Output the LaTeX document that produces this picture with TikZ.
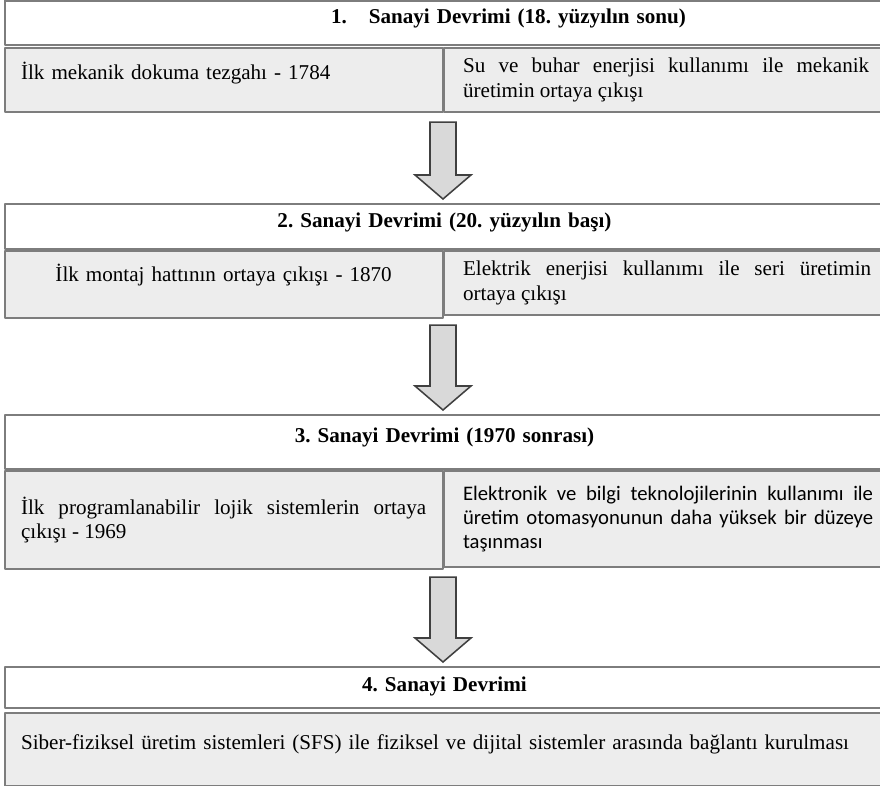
\documentclass[tikz,border=0pt]{standalone}
\usepackage{fontspec}
\setmainfont{Liberation Serif}
\newfontfamily\carlito{Carlito}
\usetikzlibrary{calc}
\definecolor{boxline}{RGB}{125,125,125}
\definecolor{boxfill}{RGB}{237,237,237}
\definecolor{arrfill}{RGB}{217,217,217}
\definecolor{arrline}{RGB}{64,64,64}
\hbadness=10000
\frenchspacing
\newcommand\stagefont{\fontsize{15}{17.5}\selectfont}
\tikzset{
	header/.style={draw=boxline, line width=1.5pt, fill=white, anchor=north west, inner xsep=0pt,
		text width=21.99cm, align=center, font=\stagefont\bfseries},
	cell/.style={draw=boxline, line width=1.5pt, fill=boxfill, anchor=north west, align=justify},
	stagearrow/.style={draw=arrline, fill=arrfill, line width=1.1pt, line join=miter}
}
\newcommand\nextstage[2]{%
	\draw[stagearrow] let \p1=(#1.south west), \p2=(#2.north) in
		({\x1-0.325cm},{\y1-0.225cm}) -- ({\x1+0.325cm},{\y1-0.225cm}) -- ({\x1+0.325cm},{\y2+0.7cm})
		-- ({\x1+0.7cm},{\y2+0.7cm}) -- (\x1,{\y2+0.1cm}) -- ({\x1-0.7cm},{\y2+0.7cm})
		-- ({\x1-0.325cm},{\y2+0.7cm}) -- cycle;}
\begin{document}
\begin{tikzpicture}[x=0.025cm, y=-0.025cm, font=\stagefont, line join=round]
		\useasboundingbox (0,0) rectangle (880,786);
		\clip (0,0) rectangle (880,786);
		% 1
		\node[header, minimum height=1.1125cm, align=left, text depth=9pt] (h1) at (3.5,-0.5)
			{\hspace*{8.16cm}1.\hspace{0.55cm}Sanayi Devrimi (18. yüzyılın sonu)};
		\node[cell, text width=10.125cm, inner xsep=0.4125cm, minimum height=1.6cm, align=left, text depth=13pt] (s1l) at (3.5,47)
			{İlk mekanik dokuma tezgahı - 1784};
		\node[cell, text width=10.15cm, inner xsep=0.475cm, minimum height=1.6cm] (s1r) at (443,47)
			{Su ve buhar enerjisi kullanımı ile mekanik\linebreak üretimin ortaya çıkışı};
		% 2
		\node[header, minimum height=1.125cm, text depth=9.5pt] (h2) at (3.5,203)
			{2. Sanayi Devrimi (20. yüzyılın başı)};
		\node[cell, text width=10.125cm, inner xsep=0.4125cm, minimum height=1.675cm, align=center, text depth=16.5pt] (s2l) at (3.5,250)
			{İlk montaj hattının ortaya çıkışı - 1870};
		\node[cell, text width=10.2cm, inner xsep=0.475cm, minimum height=1.6cm] (s2r) at (443,250)
			{Elektrik enerjisi kullanımı ile seri üretimin\linebreak ortaya çıkışı};
		% 3
		\node[header, minimum height=1.35cm, text depth=10pt] (h3) at (3.5,414)
			{3. Sanayi Devrimi (1970 sonrası)};
		\node[cell, text width=10.125cm, inner xsep=0.4125cm, minimum height=2.45cm] (s3l) at (3.5,470)
			{İlk programlanabilir lojik sistemlerin ortaya\linebreak çıkışı - 1969};
		\node[cell, text width=10.25cm, inner xsep=0.475cm, minimum height=2.4cm, font=\carlito\fontsize{14.7}{17.3}\selectfont] (s3r) at (443,470)
			{Elektronik ve bilgi teknolojilerinin kullanımı ile\linebreak üretim otomasyonunun daha yüksek bir düzeye\linebreak taşınması};
		% 4
		\node[header, minimum height=1.025cm, text depth=5.5pt] (h4) at (3.5,666)
			{4. Sanayi Devrimi};
		\node[cell, text width=21.1625cm, inner xsep=0.4125cm, minimum height=1.825cm, align=left, text depth=10.5pt] (s4) at (3.5,712)
			{Siber-fiziksel üretim sistemleri (SFS) ile fiziksel ve dijital sistemler arasında bağlantı kurulması};
		\nextstage{s1r}{h2}
		\nextstage{s2r}{h3}
		\nextstage{s3r}{h4}
\end{tikzpicture}
\end{document}
